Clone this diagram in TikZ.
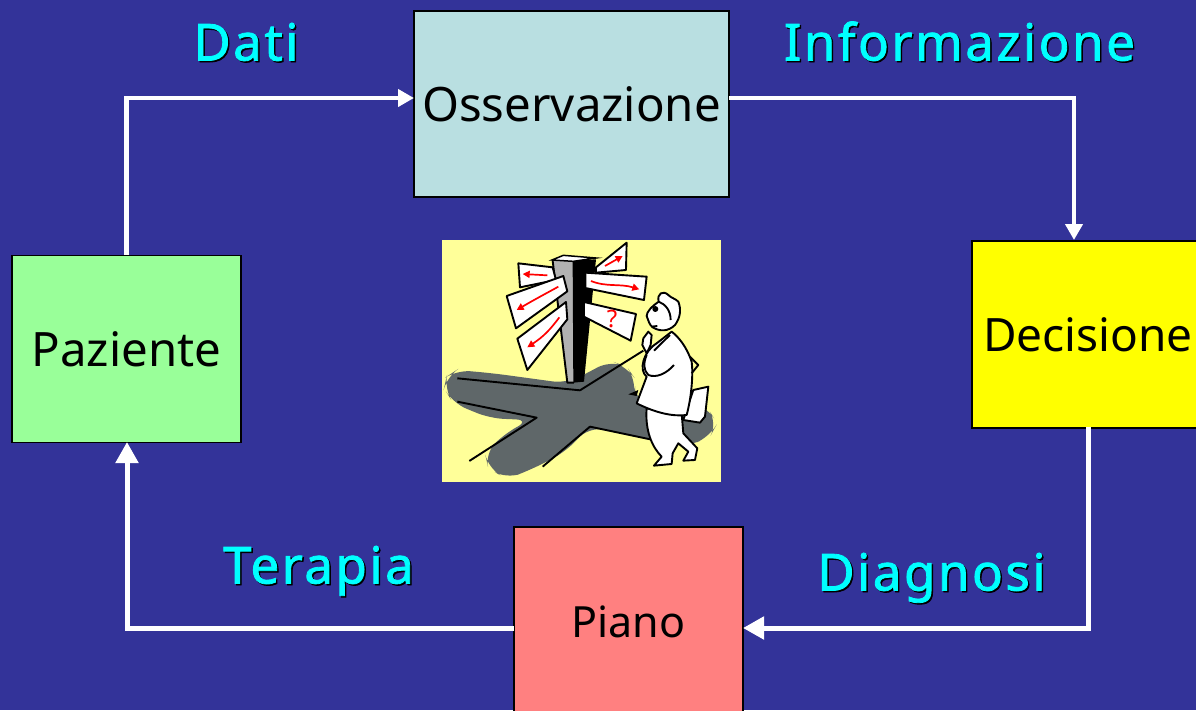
\documentclass[tikz,border=0pt]{standalone}
\usepackage{fontspec}
\setmainfont{Noto Sans}
\newfontfamily\lblfont[LetterSpace=5,FakeBold=1.6]{Noto Sans}
\usetikzlibrary{arrows.meta}
\definecolor{bgblue}{HTML}{333399}
\definecolor{lblcyan}{HTML}{00FFFF}
\definecolor{ossfill}{HTML}{B9DFE1}
\definecolor{decfill}{HTML}{FFFF00}
\definecolor{pazfill}{HTML}{99FF99}
\definecolor{piafill}{HTML}{FF8080}
\definecolor{picbg}{HTML}{FFFF99}
\definecolor{shadowgrey}{HTML}{5F6769}
\definecolor{postgrey}{HTML}{B2B2B2}
\tikzset{
  x=1pt,y=-1pt,
  boxnode/.style={draw=black,line width=1.4pt,inner sep=0pt,text=black},
  flow/.style={draw=white,line width=5pt,-{Triangle[length=21pt,width=22pt]}},
  flowsmall/.style={draw=white,line width=4.4pt,-{Triangle[length=16pt,width=17pt]}},
  lbl/.style={inner sep=0pt,anchor=base,text=lblcyan,font=\fontsize{51}{51}\selectfont\lblfont},
  lblsh/.style={inner sep=0pt,anchor=base,text=black,font=\fontsize{51}{51}\selectfont\lblfont},
  ink/.style={draw=black,line width=1.9pt,line join=round},
  sign/.style={ink,fill=white},
  redarrow/.style={draw=red,line width=1.7pt,-{Triangle[length=7pt,width=7pt]}},
}
\begin{document}
\begin{tikzpicture}
\useasboundingbox (0,0) rectangle (1196,710);
\fill[bgblue] (0,0) rectangle (1196,710);
\node[boxnode,fill=ossfill,minimum width=315pt,minimum height=186pt,font=\fontsize{47.4}{47}\selectfont] (oss) at (571.5,104) {Osservazione};
\node[boxnode,fill=decfill,minimum width=232pt,minimum height=187pt,font=\fontsize{46}{46}\selectfont] (dec) at (1088,334.5) {Decisione};
\node[boxnode,fill=pazfill,minimum width=229pt,minimum height=187pt,font=\fontsize{47.4}{47}\selectfont] (paz) at (126.5,349) {Paziente};
\node[boxnode,fill=piafill,minimum width=229pt,minimum height=190pt,font=\fontsize{43}{43}\selectfont] (pia) at (628.5,622) {Piano};
\coordinate (ossin) at (414,98);
\coordinate (ossout) at (729,98);
\coordinate (decin) at (1074,240);
\coordinate (decout) at (1088,427);
\coordinate (piain) at (743,628);
\coordinate (piaout) at (514,628);
\coordinate (pazin) at (127,442);
\draw[flowsmall] (paz.north) |- (ossin);
\draw[flowsmall] (ossout) -| (decin);
\draw[flow] (decout) |- (piain);
\draw[flow] (piaout) -| (pazin);
% labels
\node[lblsh] (dati0) at (247.5,62) {Dati};
\node[lbl] (dati) at (246,60.5) {Dati};
\node[lblsh] (info0) at (961,62) {Informazione};
\node[lbl] (info) at (959.5,60.5) {Informazione};
\node[lblsh] (tera0) at (320,585) {Terapia};
\node[lbl] (tera) at (318.5,583.5) {Terapia};
\node[lblsh] (diag0) at (933,592) {Diagnosi};
\node[lbl] (diag) at (931.5,590.5) {Diagnosi};
% illustration, coordinates of a 3x enlargement
\begin{scope}[shift={(430,230)},x=0.3333pt,y=-0.3333pt]
\fill[picbg] (36,30) rectangle (873,755);
% shadow
\fill[shadowgrey,rounded corners=14pt] (80,420) -- (190,430) -- (410,460) -- (470,430) -- (540,392) -- (590,410) -- (618,450) -- (610,510) -- (760,510) -- (830,530) -- (862,580) -- (840,620) -- (770,650) -- (640,625) -- (480,590) -- (400,670) -- (300,720) -- (230,747) -- (175,715) -- (165,670) -- (225,610) -- (300,570) -- (180,565) -- (70,520) -- (42,475) -- (50,440) -- cycle;
\draw[ink] (82,445) -- (450,481) -- (640,362);
\draw[ink] (82,515) -- (320,563) -- (118,693);
\draw[ink] (338,710) -- (480,590) -- (670,630);
% post
\fill[postgrey] (368,92) -- (432,92) -- (432,458) -- (412,458) -- cycle;
\draw[ink] (368,92) -- (412,458) -- (432,458);
\fill[black] (428,92) -- (498,88) -- (462,455) -- (430,458) -- cycle;
\fill[white,draw=black,line width=1.5pt] (366,90) -- (400,76) -- (498,84) -- (430,94) -- cycle;
% signs
\draw[sign] (498,112) -- (590,38) -- (588,120) -- (498,128) -- cycle;
\draw[sign] (466,128) -- (650,140) -- (642,210) -- (466,174) -- cycle;
\draw[sign] (462,216) -- (618,252) -- (602,332) -- (462,260) -- cycle;
\draw[sign] (265,100) -- (368,112) -- (378,150) -- (270,172) -- cycle;
\draw[sign] (230,198) -- (400,138) -- (412,184) -- (258,295) -- cycle;
\draw[sign] (262,326) -- (408,216) -- (412,268) -- (292,420) -- cycle;
\draw[redarrow] (525,108) -- (578,78);
\draw[redarrow] (483,153) .. controls (530,172) and (570,160) .. (628,178);
\draw[redarrow] (352,136) -- (278,132);
\draw[redarrow] (385,170) .. controls (340,195) and (320,205) .. (260,240);
\draw[redarrow] (388,262) .. controls (360,300) and (340,320) .. (292,352);
\node[inner sep=0pt,text=red,font=\fontsize{24}{24}\selectfont] (qm) at (546,268) {?};
% man: case
\draw[ink,fill=white] (790,480) -- (835,470) -- (825,560) -- (810,578) -- (760,570) -- cycle;
% legs and shoes
\draw[ink,fill=white] (650,535) .. controls (645,600) and (665,650) .. (695,680) -- (672,707) -- (725,702) -- (728,670) -- (745,640) -- (775,665) -- (760,692) -- (795,690) -- (802,655) -- (760,610) -- (755,550) -- cycle;
% body
\draw[ink,fill=white] (680,340) .. controls (640,365) and (625,420) .. (650,440) -- (620,520) .. controls (680,550) and (730,560) .. (770,555) .. controls (785,500) and (790,430) .. (785,395) .. controls (770,350) and (745,320) .. (725,305) -- cycle;
\draw[ink] (650,375) .. controls (640,400) and (640,420) .. (655,435) .. controls (680,445) and (710,430) .. (732,405);
\draw[ink] (780,380) -- (805,405) -- (785,430);
\fill[black] (595,493) -- (625,480) -- (620,498) -- cycle;
% head
\draw[ink,fill=white] (686,215) .. controls (665,230) and (650,245) .. (650,258) .. controls (655,270) and (658,285) .. (668,292) .. controls (690,305) and (715,305) .. (735,285) .. controls (750,265) and (755,240) .. (745,215) .. controls (735,205) and (725,205) .. (715,195) .. controls (700,180) and (680,190) .. (686,215) -- cycle;
\draw[ink] (686,215) .. controls (705,222) and (722,240) .. (722,270);
\draw[ink] (665,290) -- (682,288);
\fill[black] (676,237) circle[radius=3pt];
% hand
\draw[ink,fill=white] (640,325) -- (655,305) -- (665,315) -- (662,345) -- (650,370) -- (637,345) -- cycle;
\draw[ink] (672,362) -- (720,315);
\end{scope}
\end{tikzpicture}
\end{document}
